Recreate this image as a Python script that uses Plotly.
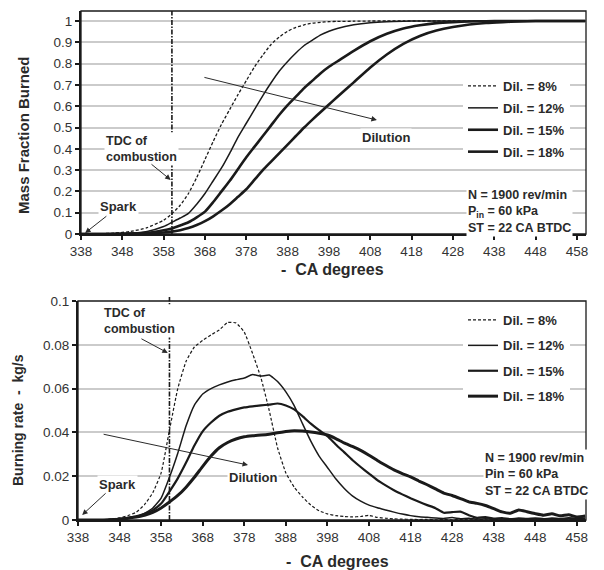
import plotly.graph_objects as go

# ---------------- data ----------------
# crank angle grid for the mass-fraction-burned curves (deg)
ca_mfb = [338, 342, 346, 350, 354, 358,
          360, 362, 364, 366, 368, 370, 372, 374, 376, 378, 380,
          382, 384, 386, 388, 390, 392, 394, 396, 398, 400,
          404, 408, 412, 416, 420, 424, 428, 432, 436, 440,
          444, 448, 452, 456, 460]

mfb_dil8 = [0, 0.001, 0.004, 0.012, 0.030, 0.065,
            0.095, 0.135, 0.190, 0.265, 0.350, 0.435, 0.515, 0.585, 0.655, 0.720, 0.785,
            0.840, 0.890, 0.925, 0.952, 0.970, 0.982, 0.990, 0.994, 0.997, 0.998,
            0.999, 1.0, 1.0, 1.0, 1.0, 1.0, 1.0, 1.0, 1.0, 1.0,
            1.0, 1.0, 1.0, 1.0, 1.0]
mfb_dil12 = [0, 0.0005, 0.001, 0.003, 0.012, 0.035,
             0.055, 0.075, 0.097, 0.140, 0.190, 0.250, 0.310, 0.380, 0.455, 0.520, 0.585,
             0.650, 0.710, 0.765, 0.810, 0.850, 0.885, 0.910, 0.935, 0.952, 0.965,
             0.982, 0.992, 0.997, 0.999, 1.0, 1.0, 1.0, 1.0, 1.0, 1.0,
             1.0, 1.0, 1.0, 1.0, 1.0]
mfb_dil15 = [0, 0, 0.0005, 0.002, 0.006, 0.018,
             0.026, 0.040, 0.055, 0.078, 0.105, 0.150, 0.200, 0.250, 0.305, 0.360, 0.410,
             0.460, 0.510, 0.560, 0.605, 0.645, 0.685, 0.720, 0.755, 0.785, 0.810,
             0.860, 0.905, 0.940, 0.965, 0.980, 0.990, 0.995, 0.998, 0.999, 1.0,
             1.0, 1.0, 1.0, 1.0, 1.0]
mfb_dil18 = [0, 0, 0.0003, 0.001, 0.003, 0.007,
             0.011, 0.018, 0.028, 0.042, 0.060, 0.083, 0.110, 0.140, 0.175, 0.210, 0.255,
             0.300, 0.340, 0.380, 0.420, 0.460, 0.500, 0.537, 0.573, 0.608, 0.643,
             0.712, 0.782, 0.843, 0.893, 0.930, 0.955, 0.972, 0.984, 0.991, 0.995,
             0.998, 1.0, 1.0, 1.0, 1.0]

# crank angle grid for the burning-rate curves (deg)
ca_rate = list(range(338, 461, 2))

rate_dil8 = [0.0000, 0.0000, -0.0004, -0.0002, 0.0004, 0.0010, 0.0020, 0.0035, 0.0070, 0.0125,
             0.0215, 0.0410, 0.0600, 0.0725, 0.0790, 0.0820, 0.0845, 0.0868, 0.0902, 0.0900,
             0.0858, 0.0760, 0.0650, 0.0500, 0.0330, 0.0215, 0.0150, 0.0105, 0.0068, 0.0042,
             0.0028, 0.0020, 0.0016, 0.0014, 0.0016, 0.0021, 0.0012, 0.0008, 0.0005, 0.0004,
             0.0003, 0.0002, 0.0003, 0.0001, 0.0002, 0.0001, 0.0003, 0.0001, 0.0002, 0.0001,
             0.0002, 0.0001, 0.0002, 0.0001, 0.0002, 0.0001, 0.0002, 0.0001, 0.0002, 0.0001,
             0.0002, 0.0001]
rate_dil12 = [0, 0, 0, 0.0001, 0.0003, 0.0006, 0.0010, 0.0015, 0.0030, 0.0055,
              0.0100, 0.0195, 0.0305, 0.0430, 0.0525, 0.0575, 0.0600, 0.0617, 0.0630, 0.0640,
              0.0648, 0.0664, 0.0657, 0.0662, 0.0632, 0.0585, 0.0522, 0.0440, 0.0360, 0.0292,
              0.0240, 0.0188, 0.0145, 0.0110, 0.0086, 0.0068, 0.0056, 0.0046, 0.0036, 0.0027,
              0.0020, 0.0015, 0.0012, 0.0009, 0.0007, 0.0011, 0.0006, 0.0008, 0.0004, 0.0006,
              0.0003, 0.0005, 0.0003, 0.0004, 0.0002, 0.0004, 0.0003, 0.0005, 0.0002, 0.0004,
              0.0003, 0.0003]
rate_dil15 = [0, 0, 0, 0, 0.0002, 0.0005, 0.0010, 0.0017, 0.0028, 0.0045,
              0.0075, 0.0130, 0.0190, 0.0262, 0.0340, 0.0405, 0.0445, 0.0476, 0.0494, 0.0505,
              0.0514, 0.0519, 0.0523, 0.0527, 0.0532, 0.0523, 0.0505, 0.0474, 0.0440, 0.0410,
              0.0383, 0.0345, 0.0310, 0.0274, 0.0242, 0.0212, 0.0182, 0.0158, 0.0136, 0.0117,
              0.0099, 0.0083, 0.0068, 0.0054, 0.0033, 0.0036, 0.0038, 0.0022, 0.0010, 0.0013,
              0.0006, 0.0009, 0.0004, 0.0007, 0.0005, 0.0008, 0.0004, 0.0007, 0.0005, 0.0009,
              0.0006, 0.0007]
rate_dil18 = [0, 0, 0, 0, 0.0001, 0.0003, 0.0008, 0.0014, 0.0022, 0.0035,
              0.0055, 0.0082, 0.0112, 0.0150, 0.0195, 0.0245, 0.0292, 0.0330, 0.0354, 0.0370,
              0.0380, 0.0385, 0.0388, 0.0392, 0.0398, 0.0404, 0.0408, 0.0406, 0.0402, 0.0396,
              0.0388, 0.0372, 0.0352, 0.0336, 0.0318, 0.0296, 0.0272, 0.0250, 0.0229, 0.0212,
              0.0197, 0.0178, 0.0161, 0.0142, 0.0123, 0.0112, 0.0098, 0.0083, 0.0076, 0.0066,
              0.0052, 0.0037, 0.0031, 0.0046, 0.0038, 0.0029, 0.0022, 0.0028, 0.0019, 0.0024,
              0.0014, 0.0018]

series_names = ["Dil. = 8%", "Dil. = 12%", "Dil. = 15%", "Dil. = 18%"]
x_ticks = list(range(338, 459, 10))
tdc_angle = 360

# ---------------- styling ----------------
INK = "#1a1a1a"
TXT = "#333333"
GRID = "#cbcbcb"
FONT = "Liberation Sans, Arial, sans-serif"

top_styles = [dict(width=1.3, dash="3px,2px"),
              dict(width=1.5, dash="solid"),
              dict(width=2.6, dash="solid"),
              dict(width=2.6, dash="solid")]
bot_styles = [dict(width=1.2, dash="3px,2px"),
              dict(width=1.5, dash="solid"),
              dict(width=2.2, dash="solid"),
              dict(width=3.0, dash="solid")]

fig = go.Figure()

for name, ys, st in zip(series_names, [mfb_dil8, mfb_dil12, mfb_dil15, mfb_dil18], top_styles):
    fig.add_trace(go.Scatter(
        x=ca_mfb, y=ys, mode="lines", name=name,
        line=dict(color=INK, width=st["width"], dash=st["dash"], shape="spline", smoothing=0.6),
        xaxis="x", yaxis="y", legend="legend", legendgroup="t" + name,
        hoverinfo="skip"))

for name, ys, st in zip(series_names, [rate_dil8, rate_dil12, rate_dil15, rate_dil18], bot_styles):
    fig.add_trace(go.Scatter(
        x=ca_rate, y=ys, mode="lines", name=name,
        line=dict(color=INK, width=st["width"], dash=st["dash"], shape="spline", smoothing=0.4),
        xaxis="x2", yaxis="y2", legend="legend2", legendgroup="b" + name,
        hoverinfo="skip"))

W, H = 604, 570


def px_x(p):
    return p / W


def px_y(p):
    return 1 - p / H


tick_font = dict(family=FONT, size=13.5, color=TXT)
lab_font = dict(family=FONT, size=13, color="#2a2a2a", weight="bold")
block_font = dict(family=FONT, size=12.5, color="#2a2a2a", weight="bold")

common_x = dict(range=[338, 460.2], tickmode="array", tickvals=x_ticks,
                showgrid=False, zeroline=False, showline=True, linecolor=INK, linewidth=2,
                ticks="outside", ticklen=4, tickwidth=1.5, tickcolor=INK,
                tickfont=tick_font, fixedrange=True)
common_y = dict(showgrid=True, gridcolor=GRID, gridwidth=1.5, zeroline=False,
                showline=True, linecolor=INK, linewidth=2, ticks="outside", ticklen=4,
                tickwidth=1.5, tickcolor=INK, tickfont=tick_font, fixedrange=True)

fig.update_layout(
    width=W, height=H, autosize=False,
    margin=dict(l=0, r=0, t=0, b=0),
    paper_bgcolor="white", plot_bgcolor="white",
    template="none",
    font=dict(family=FONT, color=TXT),
    xaxis=dict(domain=[px_x(81), px_x(586)], anchor="y", **common_x),
    yaxis=dict(domain=[px_y(234), px_y(11)], anchor="x", range=[0, 1.047],
               tick0=0, dtick=0.1, **common_y),
    xaxis2=dict(domain=[px_x(78), px_x(586)], anchor="y2", **common_x),
    yaxis2=dict(domain=[px_y(520), px_y(301)], anchor="x2", range=[0, 0.1],
                tick0=0, dtick=0.02, **common_y),
    legend=dict(x=px_x(463), y=px_y(71), xanchor="left", yanchor="top",
                bgcolor="white", borderwidth=0, font=lab_font,
                traceorder="grouped", tracegroupgap=2, itemwidth=30),
    legend2=dict(x=px_x(463), y=px_y(305), xanchor="left", yanchor="top",
                 bgcolor="white", borderwidth=0, font=lab_font,
                 traceorder="grouped", tracegroupgap=5.5, itemwidth=30),
    showlegend=True,
)

# plot frames and TDC markers
shapes = []
for xr, yr, top in (("x", "y", 1.0), ("x2", "y2", 1.018)):
    shapes.append(dict(type="rect", xref=f"{xr} domain", yref=f"{yr} domain",
                       x0=0, x1=1, y0=0, y1=1, line=dict(color=INK, width=1.3),
                       layer="above"))
    shapes.append(dict(type="line", xref=xr, yref=f"{yr} domain",
                       x0=tdc_angle, x1=tdc_angle, y0=0, y1=top,
                       line=dict(color=INK, width=1.6, dash="5px,1.5px,1.5px,1.5px"),
                       layer="above"))
fig.update_layout(shapes=shapes)

ann = []


def text(x, y, s, xr, yr, font=lab_font):
    ann.append(dict(x=x, y=y, xref=xr, yref=yr, text=s, showarrow=False,
                    xanchor="left", yanchor="middle", align="left",
                    font=font, bgcolor="white", borderpad=1))


def arrow(x_tail, y_tail, x_head, y_head, xr, yr):
    ann.append(dict(x=x_head, y=y_head, ax=x_tail, ay=y_tail, xref=xr, yref=yr,
                    axref=xr, ayref=yr, text="", showarrow=True,
                    arrowhead=2, arrowsize=1.1, arrowwidth=1, arrowcolor="#2a2a2a"))


# top panel labels
text(343.6, 0.40, "TDC of<br>combustion", "x", "y", block_font)
arrow(354.7, 0.333, 359.7, 0.254, "x", "y")
text(342.1, 0.127, "Spark", "x", "y")
arrow(344.5, 0.089, 339.0, 0.005, "x", "y")
arrow(367.5, 0.737, 409.6, 0.535, "x", "y")
text(405.5, 0.455, "Dilution", "x", "y")
text(431.2, 0.106, "N = 1900 rev/min<br>P<sub>in</sub> = 60 kPa<br>ST = 22 CA BTDC",
     "x", "y", block_font)

# bottom panel labels
text(343.8, 0.0909, "TDC of<br>combustion", "x2", "y2", block_font)
arrow(352.9, 0.0831, 359.6, 0.0763, "x2", "y2")
text(342.6, 0.0164, "Spark", "x2", "y2")
arrow(345.0, 0.0128, 339.0, 0.0023, "x2", "y2")
arrow(343.8, 0.0393, 378.9, 0.0251, "x2", "y2")
text(373.8, 0.0196, "Dilution", "x2", "y2")
text(435.4, 0.0210, "N = 1900 rev/min<br>Pin = 60 kPa<br>ST = 22 CA BTDC",
     "x2", "y2", block_font)

# axis titles
title_font = dict(family=FONT, size=15, color="#2a2a2a", weight="bold")
ann.append(dict(x=px_x(24), y=px_y(135), xref="paper", yref="paper",
                text="Mass Fraction Burned", textangle=-90, showarrow=False,
                xanchor="center", yanchor="middle", font=title_font))
ann.append(dict(x=px_x(18), y=px_y(420), xref="paper", yref="paper",
                text="Burning rate  -  kg/s", textangle=-90, showarrow=False,
                xanchor="center", yanchor="middle", font=dict(title_font, size=14)))
ann.append(dict(x=px_x(332), y=px_y(270), xref="paper", yref="paper",
                text="-  CA degrees", showarrow=False,
                xanchor="center", yanchor="middle", font=dict(title_font, size=16)))
ann.append(dict(x=px_x(337), y=px_y(561), xref="paper", yref="paper",
                text="-  CA degrees", showarrow=False,
                xanchor="center", yanchor="middle", font=dict(title_font, size=16)))

fig.update_layout(annotations=ann)

fig.write_html("out.html", config={"displayModeBar": False})
